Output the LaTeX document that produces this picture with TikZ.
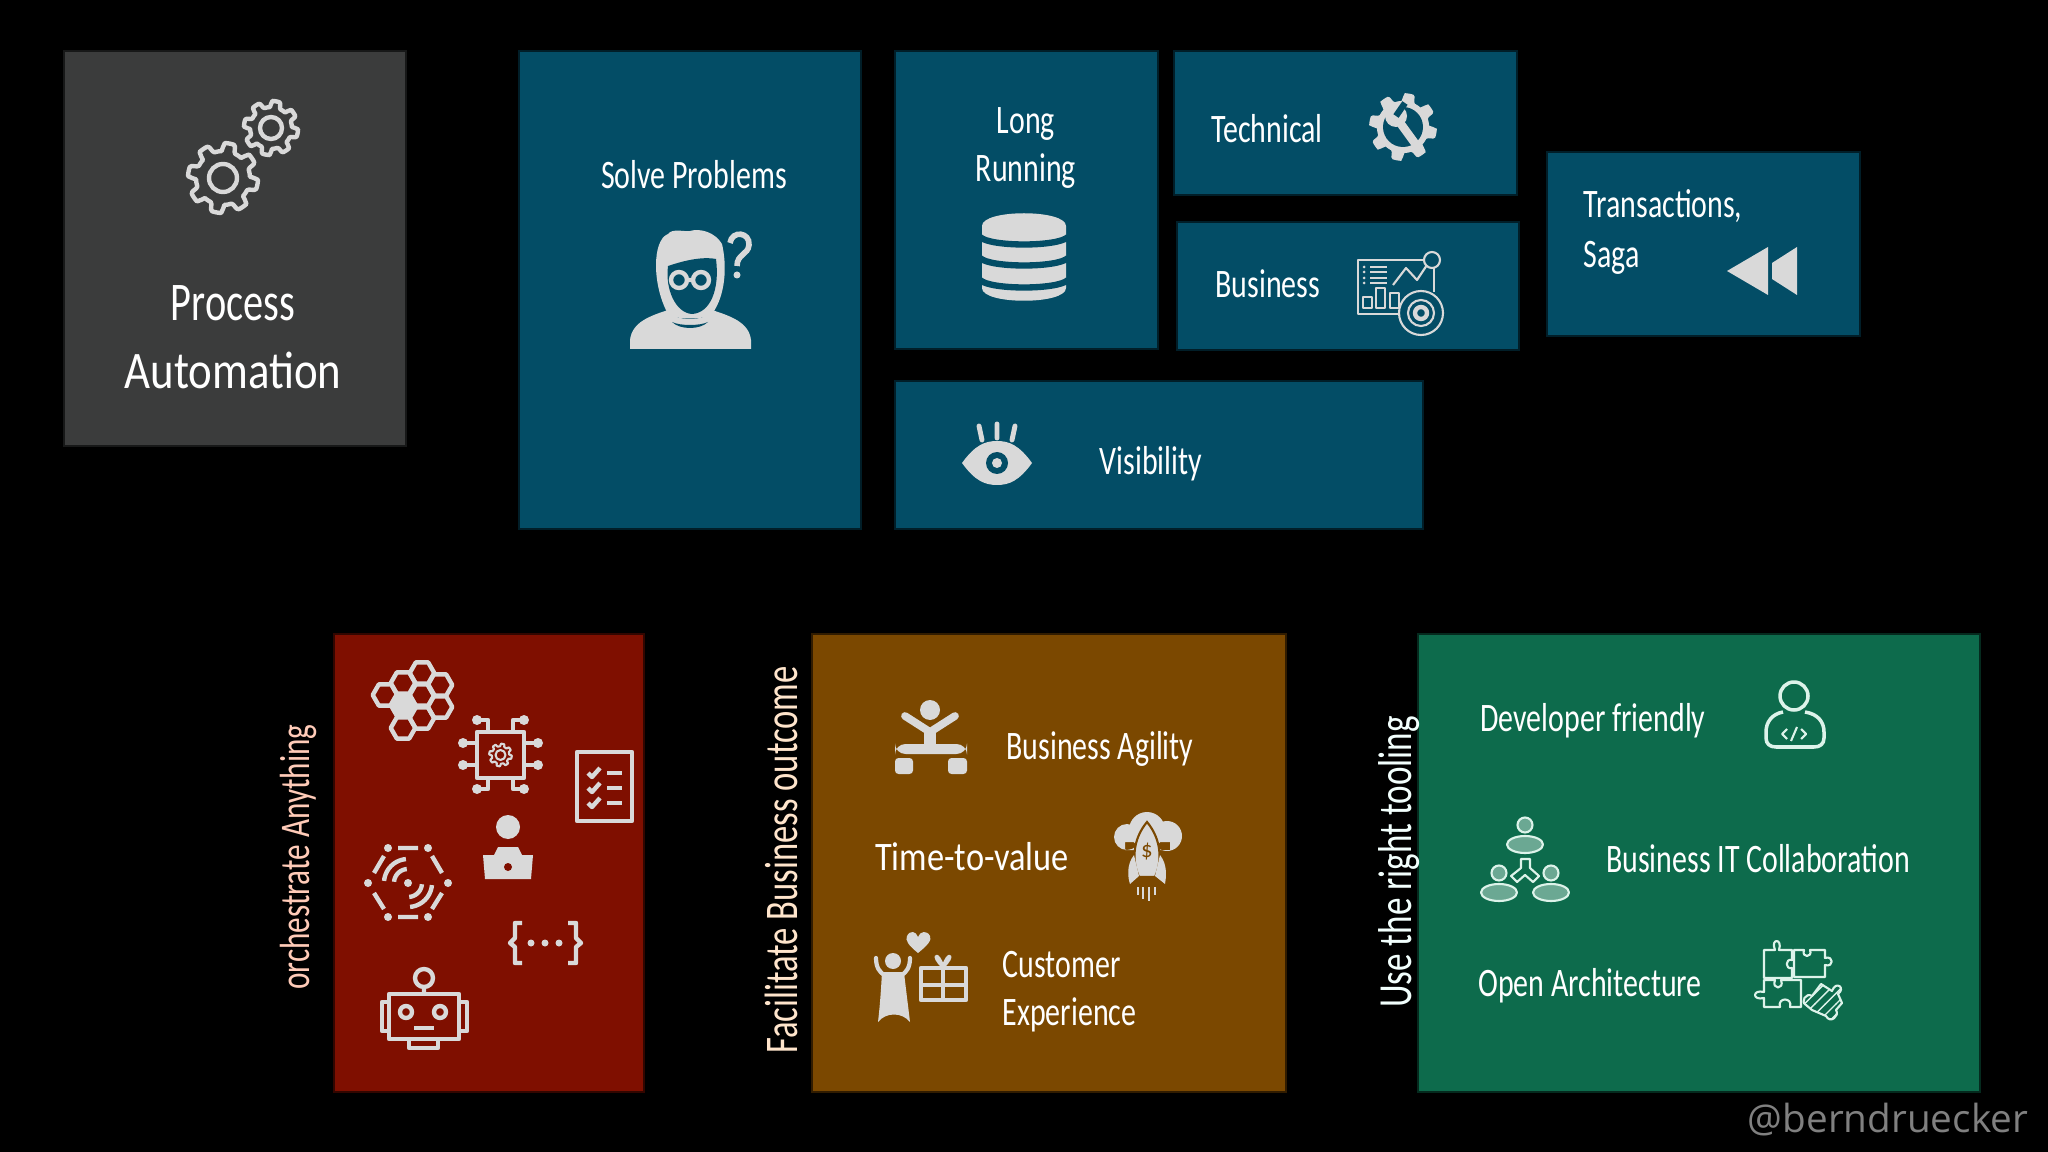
\documentclass[tikz,border=0pt]{standalone}
\usepackage{fontspec}
\setmainfont{Carlito}
\newfontfamily\handfont[FakeStretch=0.74]{Carlito}
\newfontfamily\widehand[FakeStretch=0.85]{Carlito}
\newfontfamily\tagfont{Open Sans}
\usetikzlibrary{arrows,%
                shapes,positioning,patterns}
\definecolor{slatebox}{HTML}{3B3C3C}
\definecolor{tealbox}{HTML}{034D66}
\definecolor{redbox}{HTML}{7F0F00}
\definecolor{brownbox}{HTML}{7B4800}
\definecolor{greenbox}{HTML}{0D6B4C}
\definecolor{iconcol}{HTML}{D9D9D9}
\definecolor{mintcol}{HTML}{DDF3EA}
\tikzset{
  tile/.style={fill=#1,preaction={draw=#1,line width=1.2pt,opacity=.4}},
  label/.style={text=white,font=\handfont\fontsize{11.5}{14}\selectfont,inner sep=0pt},
  widelabel/.style={text=white,font=\widehand\fontsize{11.5}{14}\selectfont,inner sep=0pt},
  biglabel/.style={text=white,font=\handfont\fontsize{15.5}{18}\selectfont,inner sep=0pt},
  widebig/.style={text=white,font=\widehand\fontsize{15}{18}\selectfont,inner sep=0pt},
  side/.style={rotate=90,font=\handfont\fontsize{#1}{14}\selectfont,inner sep=0pt},
  icon/.style={draw=iconcol,line width=1.25pt,line join=round},
  thin icon/.style={draw=iconcol,line width=.6pt,line join=round},
  mint/.style={draw=mintcol,line width=.6pt,line join=round}
}
\newcommand{\gearpath}[3]{plot[domain=0:360,samples=121]
  ({#1+#3*(1+.13*max(-1,min(1,3*sin(8*\x))))*cos(\x)},{#2+#3*(1+.13*max(-1,min(1,3*sin(8*\x))))*sin(\x)})}
\newcommand{\hexpath}[3]{plot[domain=0:360,samples=7] ({#1+#3*cos(\x)},{#2+#3*sin(\x)})}
\newcommand{\arcpath}[5]{plot[domain=#4:#5,samples=15] ({#1+#3*cos(\x)},{#2+#3*sin(\x)})}
\begin{document}
\begin{tikzpicture}[x=0.01cm,y=-0.01cm]
\useasboundingbox (0,0) rectangle (2048,1152);
\fill[black] (0,0) rectangle (2048,1152);
\path[tile=slatebox] (65,52) rectangle (405,445);
\path[tile=tealbox] (520,52) rectangle (860,528);
\path[tile=tealbox] (896,52) rectangle (1157,348);
\path[tile=tealbox] (1175,52) rectangle (1516,194);
\path[tile=tealbox] (1178,223) rectangle (1518,349);
\path[tile=tealbox] (1548,153) rectangle (1859,335);
\path[tile=tealbox] (896,382) rectangle (1422,528);
\path[tile=redbox] (335,635) rectangle (643,1091);
\path[tile=brownbox] (813,635) rectangle (1285,1091);
\path[tile=greenbox] (1419,635) rectangle (1979,1091);
\node[biglabel] (process) at (233,303) {Process};
\node[widebig] (automation) at (233,370) {Automation};
\node[label] (solve) at (694,175) {Solve Problems};
\node[label] (long) at (1026,124) {Long};
\node[label] (running) at (1026,171) {Running};
\node[label] (technical) at (1267,129) {Technical};
\node[label] (business) at (1268,284) {Business};
\node[label,anchor=west] (transactions) at (1583,206) {Transactions,};
\node[label,anchor=west] (saga) at (1583,258) {Saga};
\node[label] (visibility) at (1151,464) {Visibility};
\node[label] (agility) at (1100,749) {Business Agility};
\node[widelabel] (timevalue) at (972,857) {Time-to-value};
\node[label,anchor=west] (customer) at (1002,965) {Customer};
\node[label,anchor=west] (experience) at (1002,1015) {Experience};
\node[label] (developer) at (1593,721) {Developer friendly};
\node[label] (collab) at (1758,859) {Business IT Collaboration};
\node[label] (openarch) at (1590,986) {Open Architecture};
\node[side=12,text=red!15!white!85!orange] (anything) at (298,857) {orchestrate Anything};
\node[side=13.3,text=orange!20!white] (outcome) at (781,860) {Facilitate Business outcome};
\node[side=13.5,text=green!15!cyan!5!white] (tooling) at (1399,862) {Use the right tooling};
\node[text=gray,font=\tagfont\fontsize{11}{13}\selectfont,inner sep=0pt] (handle) at (1888,1120) {@berndruecker};
% gears
\draw[icon] \gearpath{223}{178}{31} -- cycle;
\draw[icon] (223,178) circle (14);
\draw[icon] \gearpath{271}{128}{24} -- cycle;
\draw[icon] (271,128) circle (11);
% person with question mark
\fill[iconcol] (630,349) -- (630,340) .. controls (632,322) and (650,316) .. (668,310) .. controls (672,322) and (708,322) .. (712,310) .. controls (730,316) and (749,322) .. (751,340) -- (751,349) -- cycle;
\fill[iconcol] (668,314) .. controls (652,285) and (652,240) .. (668,234) .. controls (672,228) and (685,232) .. (690,231) .. controls (700,228) and (715,232) .. (722,244) .. controls (727,265) and (726,295) .. (712,314) .. controls (705,320) and (675,320) .. (668,314) -- cycle;
\fill[tealbox] (668,266) .. controls (680,262) and (700,256) .. (716,259) .. controls (720,290) and (710,313) .. (692,314) .. controls (676,313) and (665,290) .. (668,266) -- cycle;
\fill[tealbox] (672,322) .. controls (680,330) and (700,330) .. (708,322) .. controls (700,326) and (680,326) .. (672,322) -- cycle;
\draw[icon] (679,280) circle (8) (701,280) circle (8) (687,280) -- (693,280);
\draw[iconcol,line width=1.6pt] (730,243) .. controls (732,230) and (750,232) .. (749,245) .. controls (748,255) and (737,254) .. (737,266);
\fill[iconcol] (737,275) circle (3.5);
% database
\fill[iconcol] (982,226) -- (982,288) .. controls (982,305) and (1066,305) .. (1066,288) -- (1066,226) .. controls (1066,209) and (982,209) .. (982,226) -- cycle;
\foreach \yy in {237,258,280}
  \draw[tealbox,line width=1.8pt] (980,\yy) .. controls (990,\yy+10) and (1058,\yy+10) .. (1068,\yy);
% wrench in gear
\fill[iconcol] \gearpath{1403}{127}{30} -- cycle;
\fill[tealbox] (1403,127) circle (20);
\fill[iconcol] (1396,116) circle (11);
\draw[iconcol,line width=2.4pt] (1398,120) -- (1422,153);
\draw[tealbox,line width=1.8pt] (1396,116) -- (1405,103);
% dashboard
\draw[thin icon] (1424,260) -- (1358,260) -- (1358,314) -- (1399,314) (1434,268) -- (1434,292);
\draw[thin icon] (1432,260) circle (8);
\draw[thin icon] (1393,285) -- (1406,268) -- (1417,280) -- (1427,265);
\foreach \yy in {267,272,278,283}
  \draw[thin icon] (1370,\yy) -- (1387,\yy);
\foreach \yy in {267,272,278,283}
  \fill[iconcol] (1364,\yy) circle (1.5);
\draw[thin icon] (1363,297) rectangle (1372,308) (1376,288) rectangle (1385,308) (1390,293) rectangle (1399,308);
\fill[tealbox] (1421,313) circle (22);
\draw[thin icon] (1421,313) circle (22) (1421,313) circle (13);
\draw[icon] (1421,313) circle (6);
% rewind
\fill[iconcol] (1727,271) -- (1768,247) -- (1768,295) -- cycle;
\fill[iconcol] (1772,263) -- (1797,247) -- (1797,295) -- (1772,279) -- cycle;
% eye
\fill[iconcol] (962,463) .. controls (975,445) and (985,441) .. (997,441) .. controls (1009,441) and (1019,445) .. (1032,463) .. controls (1019,481) and (1009,485) .. (997,485) .. controls (985,485) and (975,481) .. (962,463) -- cycle;
\fill[tealbox] (997,463) circle (11);
\fill[iconcol] (997,463) circle (5);
\draw[iconcol,line width=1.4pt,line cap=round] (979,426) -- (982,440) (997,424) -- (997,438) (1015,426) -- (1012,440);
% honeycomb
\foreach \cx/\cy in {385/695,403/683,403/705,403/728,422/673,422/695,422/718,440/685,440/707}
  \draw[icon] \hexpath{\cx}{\cy}{12.3} -- cycle;
\fill[iconcol] \hexpath{403}{705}{13} -- cycle;
% chip
\draw[icon] (477,732) rectangle (524,778);
\draw[thin icon] \gearpath{500.5}{755}{10} -- cycle;
\draw[thin icon] (500.5,755) circle (5);
\foreach \py in {743,765} {
  \draw[icon] (463,\py) -- (477,\py) (524,\py) -- (538,\py);
  \fill[iconcol] (463,\py) circle (5) (538,\py) circle (5);
}
\draw[icon] (477,720) -- (488,720) -- (488,732) (524,720) -- (513,720) -- (513,732);
\draw[icon] (477,789) -- (488,789) -- (488,778) (524,789) -- (513,789) -- (513,778);
\fill[iconcol] (477,720) circle (5) (524,720) circle (5) (477,789) circle (5) (524,789) circle (5);
% checklist
\draw[icon] (577,752) rectangle (632,821);
\foreach \yy in {773,788,803} {
  \draw[icon] (607,\yy) -- (622,\yy);
  \draw[icon] (588,\yy) -- (592,\yy+4) -- (600,\yy-5);
}
% person at laptop
\fill[iconcol] (508,827) circle (12);
\fill[iconcol] (498,847) -- (518,847) -- (522,855) -- (533,855) -- (531,879) -- (485,879) -- (483,855) -- (494,855) -- cycle;
\fill[redbox] (508,867) circle (4);
% radar hexagon
\foreach \cx/\cy in {368/883,448/883,388/848,428/848,388/917,428/917}
  \fill[iconcol] (\cx,\cy) circle (4);
\draw[icon] (398,848) -- (418,848) (398,917) -- (418,917) (374,873) -- (384,856) (442,873) -- (432,856) (374,893) -- (384,909) (442,893) -- (432,909);
\fill[iconcol] (408,883) circle (4);
\draw[icon] \arcpath{408}{883}{14}{185}{265};
\draw[icon] \arcpath{408}{883}{24}{185}{265};
\draw[icon] \arcpath{408}{883}{14}{5}{85};
\draw[icon] \arcpath{408}{883}{24}{5}{85};
% braces
\draw[icon] (522,923) -- (515,923) -- (515,938) -- (510,943) -- (515,947) -- (515,963) -- (522,963);
\draw[icon] (568,923) -- (576,923) -- (576,938) -- (581,943) -- (576,947) -- (576,963) -- (568,963);
\fill[iconcol] (531,943) circle (3.5) (545,943) circle (3.5) (559,943) circle (3.5);
% robot
\draw[icon] (424,978) circle (9) (424,987) -- (424,994);
\draw[icon] (389,994) rectangle (459,1039);
\draw[icon] (382,1002) rectangle (389,1031) (459,1002) rectangle (467,1031);
\draw[icon] (406,1012) circle (6) (440,1012) circle (6);
\draw[icon] (414,1028) -- (434,1028);
\draw[icon] (409,1039) rectangle (438,1048);
% person on blocks
\fill[iconcol] (930,710) circle (10);
\draw[iconcol,line width=2.2pt,line cap=round,line join=round] (905,716) -- (930,732) -- (955,716);
\draw[iconcol,line width=3.4pt] (930,730) -- (930,748);
\fill[iconcol,rounded corners=3] (895,744) rectangle (967,754);
\fill[iconcol,rounded corners=1] (895,758) rectangle (913,774) (948,758) rectangle (967,774);
% rocket in cloud
\fill[iconcol] (1127,837) circle (13) (1147,830) circle (18) (1167,836) circle (15) (1125,842) rectangle (1170,850);
\fill[iconcol,draw=brownbox,line width=.6pt] (1147,822) .. controls (1162,840) and (1162,862) .. (1155,877) -- (1139,877) .. controls (1132,862) and (1132,840) .. (1147,822) -- cycle;
\fill[iconcol] (1134,855) .. controls (1126,865) and (1128,878) .. (1130,884) -- (1139,876) -- cycle;
\fill[iconcol] (1160,855) .. controls (1168,865) and (1166,878) .. (1165,884) -- (1155,876) -- cycle;
\node[text=brownbox,font=\fontsize{6.5}{7}\selectfont,inner sep=0pt] (dollar) at (1147,852) {\$};
\draw[iconcol,line width=.6pt] (1138,887) -- (1138,895) (1143,887) -- (1143,899) (1149,887) -- (1149,901) (1155,887) -- (1155,895);
% customer with gift
\fill[iconcol] (918,953) .. controls (908,945) and (905,940) .. (907,936) .. controls (910,930) and (916,931) .. (918,937) .. controls (920,931) and (927,930) .. (930,936) .. controls (932,940) and (928,945) .. (918,953) -- cycle;
\fill[iconcol] (893,961) circle (8);
\fill[iconcol] (882,972) -- (904,972) .. controls (906,990) and (908,1005) .. (910,1022) .. controls (902,1012) and (886,1012) .. (878,1022) .. controls (880,1005) and (881,990) .. (882,972) -- cycle;
\draw[iconcol,line width=1.2pt,line cap=round] (876,958) .. controls (876,968) and (880,972) .. (884,975) (910,958) .. controls (910,968) and (906,972) .. (902,975);
\draw[icon] (921,968) rectangle (966,1000) (943,968) -- (943,1000) (921,985) -- (966,985);
\draw[icon,line width=.8pt] (943,967) .. controls (930,955) and (938,950) .. (943,967) .. controls (948,950) and (956,955) .. (943,967);
% developer
\draw[mint,line width=1pt] (1794,696) circle (14);
\draw[mint,line width=1pt] (1783,712) .. controls (1772,714) and (1766,722) .. (1766,732) -- (1766,738) .. controls (1766,744) and (1770,747) .. (1776,747) -- (1814,747) .. controls (1820,747) and (1824,744) .. (1824,738) -- (1824,732) .. controls (1824,722) and (1818,714) .. (1805,712);
\draw[mint] (1787,729) -- (1782,734) -- (1787,739) (1801,729) -- (1806,734) -- (1801,739) (1797,727) -- (1791,741);
% collaboration
\foreach \hx/\hy in {1525/825,1499/873,1551/873} {
  \draw[mint,fill=mintcol!45!greenbox] (\hx,\hy) circle (7.5);
  \draw[mint,fill=mintcol!45!greenbox] (\hx,\hy+19.5) ellipse (18 and 8.5);
}
\draw[mint] (1521,859) -- (1530,859) -- (1530,868) -- (1539,876) -- (1533,882) -- (1525,875) -- (1517,882) -- (1511,876) -- (1521,868) -- cycle;
% puzzle
\draw[mint] (1764,950) -- (1775,950) .. controls (1770,938) and (1783,938) .. (1779,950) -- (1792,950) -- (1792,960) .. controls (1785,958) and (1785,970) .. (1792,968) -- (1792,978) -- (1764,978) -- cycle;
\draw[mint] (1794,950) -- (1804,950) .. controls (1801,958) and (1813,958) .. (1810,950) -- (1825,950) -- (1825,958) .. controls (1834,955) and (1834,968) .. (1825,965) -- (1825,977) -- (1794,977) -- cycle;
\draw[mint] (1764,980) -- (1775,980) .. controls (1771,990) and (1785,990) .. (1781,980) -- (1801,980) -- (1801,1007) -- (1790,1007) .. controls (1793,997) and (1777,997) .. (1780,1007) -- (1764,1007) -- (1764,998) .. controls (1752,1001) and (1752,989) .. (1764,992) -- cycle;
\draw[mint,pattern=north east lines,pattern color=mintcol] (1821,984) -- (1832,991) .. controls (1836,980) and (1846,988) .. (1838,994) -- (1842,1003) -- (1836,1010) .. controls (1840,1016) and (1830,1024) .. (1826,1016) -- (1812,1010) -- (1806,1005) .. controls (1800,1002) and (1806,992) .. (1812,996) -- cycle;
\end{tikzpicture}
\end{document}
